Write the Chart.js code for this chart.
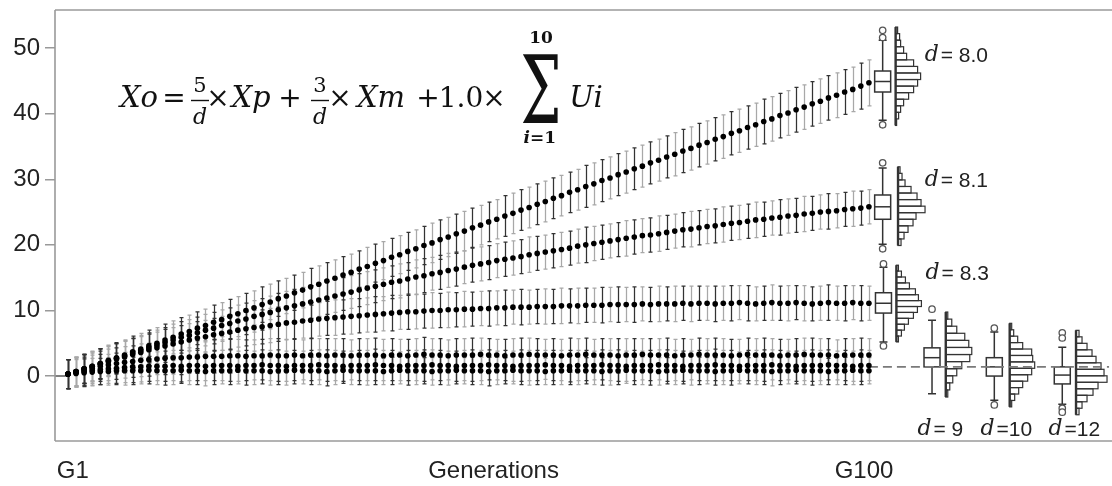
<!DOCTYPE html>
<html><head><meta charset="utf-8">
<script src="https://cdn.jsdelivr.net/npm/chart.js@4.4.0/dist/chart.umd.min.js"></script>
<style>html,body{margin:0;padding:0;background:#fff}#wrap{width:1112px;height:486px}</style>
</head><body><div id="wrap"><canvas id="c" width="1112" height="486"></canvas></div>
<script>
// ---------- categories & ticks ----------
const generations = Array.from({length:100},(_, i)=>i+1);
const xTickValues = [1.6, 53.6, 99.4];
const xTickLabels = ['G1','Generations','G100'];
const yTickValues = [0,10,20,30,40,50];
const dLabels = ['= 8.0','= 8.1','= 8.3','= 9','=10','=12'];

// ---------- series means (per generation) ----------
const mean_d80 = [0.3,0.7,1.1,1.5,1.9,2.4,2.8,3.2,3.7,4.1,4.6,5.0,5.5,5.9,6.4,6.8,7.3,7.7,8.2,8.6,9.1,9.5,10.0,10.4,10.9,11.3,11.8,12.2,12.7,13.1,13.6,14.0,14.5,14.9,15.4,15.8,16.3,16.7,17.2,17.6,18.1,18.5,19.0,19.4,19.9,20.3,20.8,21.2,21.7,22.1,22.6,23.0,23.5,23.9,24.4,24.8,25.3,25.7,26.2,26.6,27.1,27.5,28.0,28.4,28.9,29.3,29.8,30.2,30.7,31.1,31.6,32.0,32.5,32.9,33.4,33.8,34.3,34.7,35.2,35.6,36.1,36.5,37.0,37.4,37.9,38.3,38.8,39.2,39.7,40.1,40.6,41.0,41.5,41.9,42.4,42.8,43.3,43.7,44.2,44.7];
const mean_d81 = [0.3,0.7,1.1,1.5,1.9,2.3,2.7,3.1,3.5,3.9,4.3,4.7,5.1,5.5,5.9,6.2,6.6,7.0,7.3,7.7,8.0,8.4,8.7,9.1,9.4,9.7,10.1,10.4,10.7,11.0,11.3,11.6,11.9,12.2,12.5,12.8,13.1,13.4,13.7,14.0,14.3,14.5,14.8,15.1,15.3,15.6,15.8,16.1,16.3,16.6,16.9,17.1,17.3,17.6,17.8,18.0,18.2,18.5,18.7,18.9,19.1,19.3,19.5,19.8,20.0,20.2,20.4,20.6,20.8,21.0,21.2,21.4,21.5,21.7,21.9,22.1,22.3,22.4,22.6,22.8,22.9,23.1,23.3,23.4,23.6,23.8,23.9,24.1,24.2,24.4,24.5,24.7,24.8,25.0,25.1,25.2,25.4,25.5,25.6,25.8];
const mean_d83 = [0.3,0.7,1.1,1.4,1.8,2.2,2.6,2.9,3.3,3.6,4.0,4.3,4.6,4.9,5.2,5.5,5.8,6.0,6.3,6.5,6.7,7.0,7.2,7.4,7.5,7.7,7.9,8.1,8.2,8.4,8.5,8.7,8.8,8.9,9.0,9.1,9.2,9.3,9.4,9.5,9.6,9.7,9.8,9.8,9.9,10.0,10.0,10.1,10.1,10.2,10.2,10.3,10.3,10.4,10.4,10.5,10.5,10.5,10.6,10.6,10.6,10.7,10.7,10.7,10.8,10.8,10.8,10.9,10.9,10.9,10.9,11.0,10.9,11.0,11.0,11.0,11.1,11.0,11.1,11.1,11.0,11.1,11.1,11.2,11.1,11.0,11.1,11.2,11.1,11.1,11.2,11.1,11.0,11.1,11.2,11.1,11.1,11.2,11.1,11.1];
const mean_d9 = [0.3,0.6,0.9,1.2,1.5,1.7,1.9,2.1,2.2,2.4,2.5,2.6,2.7,2.8,2.8,2.9,2.9,3.0,3.0,3.0,3.1,3.1,3.0,3.1,3.1,3.2,3.1,3.1,3.2,3.1,3.2,3.2,3.1,3.2,3.2,3.1,3.2,3.2,3.2,3.1,3.2,3.2,3.1,3.2,3.3,3.2,3.2,3.1,3.2,3.2,3.2,3.3,3.2,3.2,3.1,3.2,3.2,3.3,3.2,3.2,3.2,3.1,3.2,3.2,3.3,3.2,3.2,3.2,3.1,3.2,3.2,3.3,3.2,3.2,3.2,3.1,3.2,3.2,3.3,3.2,3.2,3.2,3.1,3.2,3.3,3.2,3.2,3.2,3.1,3.2,3.2,3.3,3.2,3.2,3.2,3.1,3.2,3.2,3.2,3.2];
const mean_d10 = [0.3,0.5,0.7,0.9,1.0,1.1,1.2,1.3,1.4,1.4,1.5,1.5,1.5,1.6,1.5,1.6,1.6,1.5,1.6,1.6,1.6,1.5,1.6,1.6,1.7,1.6,1.6,1.5,1.6,1.6,1.6,1.7,1.6,1.6,1.5,1.6,1.6,1.6,1.7,1.6,1.6,1.5,1.6,1.6,1.6,1.7,1.6,1.6,1.5,1.6,1.6,1.6,1.7,1.6,1.6,1.5,1.6,1.6,1.6,1.7,1.6,1.6,1.5,1.6,1.6,1.6,1.7,1.6,1.6,1.5,1.6,1.6,1.6,1.7,1.6,1.6,1.5,1.6,1.6,1.6,1.7,1.6,1.6,1.5,1.6,1.6,1.6,1.7,1.6,1.6,1.5,1.6,1.6,1.6,1.7,1.6,1.6,1.5,1.6,1.6];
const mean_d12 = [0.3,0.4,0.5,0.6,0.7,0.7,0.8,0.8,0.8,0.8,0.9,0.8,0.8,0.8,0.9,0.8,0.8,0.7,0.8,0.8,0.8,0.9,0.8,0.8,0.8,0.7,0.8,0.8,0.9,0.8,0.8,0.8,0.7,0.8,0.9,0.8,0.8,0.8,0.8,0.7,0.8,0.9,0.8,0.8,0.8,0.7,0.8,0.8,0.9,0.8,0.8,0.8,0.7,0.8,0.8,0.9,0.8,0.8,0.8,0.7,0.8,0.8,0.9,0.8,0.8,0.8,0.7,0.8,0.8,0.9,0.8,0.8,0.8,0.7,0.8,0.8,0.9,0.8,0.8,0.8,0.7,0.8,0.8,0.9,0.8,0.8,0.8,0.7,0.8,0.8,0.9,0.8,0.8,0.8,0.7,0.8,0.8,0.9,0.8,0.8];

// ---------- error bar half-lengths (SD) ----------
const sd_d80 = [2.2,2.2,2.2,2.3,2.3,2.3,2.3,2.3,2.4,2.4,2.4,2.4,2.4,2.5,2.5,2.5,2.5,2.5,2.6,2.6,2.6,2.6,2.6,2.6,2.7,2.7,2.7,2.7,2.7,2.7,2.8,2.8,2.8,2.8,2.8,2.8,2.8,2.9,2.9,2.9,2.9,2.9,2.9,2.9,2.9,3.0,3.0,3.0,3.0,3.0,3.0,3.0,3.0,3.0,3.1,3.1,3.1,3.1,3.1,3.1,3.1,3.1,3.1,3.1,3.2,3.2,3.2,3.2,3.2,3.2,3.2,3.2,3.2,3.2,3.2,3.3,3.3,3.3,3.3,3.3,3.3,3.3,3.3,3.3,3.3,3.3,3.4,3.4,3.4,3.4,3.4,3.4,3.4,3.4,3.4,3.4,3.4,3.4,3.5,3.5];
const sd_d81 = [2.2,2.2,2.2,2.2,2.3,2.3,2.3,2.3,2.3,2.3,2.3,2.3,2.3,2.4,2.4,2.4,2.4,2.4,2.4,2.4,2.4,2.4,2.4,2.4,2.4,2.5,2.5,2.5,2.5,2.5,2.5,2.5,2.5,2.5,2.5,2.5,2.5,2.5,2.5,2.5,2.5,2.6,2.5,2.6,2.6,2.5,2.6,2.6,2.6,2.5,2.6,2.6,2.6,2.6,2.6,2.6,2.6,2.7,2.6,2.6,2.6,2.6,2.6,2.6,2.7,2.6,2.6,2.6,2.6,2.7,2.6,2.6,2.6,2.7,2.6,2.6,2.6,2.7,2.6,2.6,2.6,2.7,2.6,2.6,2.6,2.7,2.6,2.6,2.7,2.6,2.6,2.7,2.6,2.6,2.7,2.6,2.6,2.7,2.6,2.6];
const sd_d83 = [2.2,2.2,2.2,2.3,2.3,2.3,2.3,2.4,2.4,2.4,2.4,2.4,2.5,2.5,2.5,2.5,2.5,2.5,2.5,2.6,2.6,2.6,2.6,2.6,2.6,2.6,2.6,2.6,2.6,2.6,2.7,2.6,2.6,2.7,2.6,2.7,2.6,2.6,2.7,2.6,2.7,2.6,2.7,2.6,2.6,2.7,2.6,2.7,2.6,2.7,2.6,2.6,2.7,2.6,2.7,2.6,2.7,2.6,2.6,2.7,2.6,2.7,2.6,2.7,2.6,2.6,2.7,2.6,2.7,2.6,2.7,2.6,2.6,2.7,2.6,2.7,2.6,2.7,2.6,2.6,2.7,2.6,2.7,2.6,2.7,2.6,2.6,2.7,2.6,2.7,2.6,2.7,2.6,2.6,2.7,2.6,2.7,2.6,2.7,2.6];
const sd_d9 = [2.2,2.2,2.3,2.3,2.3,2.4,2.4,2.4,2.4,2.5,2.5,2.4,2.5,2.5,2.6,2.5,2.5,2.4,2.5,2.5,2.6,2.5,2.5,2.4,2.5,2.5,2.6,2.5,2.5,2.4,2.5,2.5,2.6,2.5,2.5,2.4,2.5,2.5,2.6,2.5,2.5,2.4,2.5,2.5,2.6,2.5,2.5,2.4,2.5,2.5,2.6,2.5,2.5,2.4,2.5,2.5,2.6,2.5,2.5,2.4,2.5,2.5,2.6,2.5,2.5,2.4,2.5,2.5,2.6,2.5,2.5,2.4,2.5,2.5,2.6,2.5,2.5,2.4,2.5,2.5,2.6,2.5,2.5,2.4,2.5,2.5,2.6,2.5,2.5,2.4,2.5,2.5,2.6,2.5,2.5,2.4,2.5,2.5,2.6,2.5];
const sd_d10 = [2.2,2.2,2.2,2.3,2.3,2.2,2.3,2.3,2.4,2.3,2.3,2.2,2.3,2.3,2.4,2.3,2.3,2.2,2.3,2.3,2.4,2.3,2.3,2.2,2.3,2.3,2.4,2.3,2.3,2.2,2.3,2.3,2.4,2.3,2.3,2.2,2.3,2.3,2.4,2.3,2.3,2.2,2.3,2.3,2.4,2.3,2.3,2.2,2.3,2.3,2.4,2.3,2.3,2.2,2.3,2.3,2.4,2.3,2.3,2.2,2.3,2.3,2.4,2.3,2.3,2.2,2.3,2.3,2.4,2.3,2.3,2.2,2.3,2.3,2.4,2.3,2.3,2.2,2.3,2.3,2.4,2.3,2.3,2.2,2.3,2.3,2.4,2.3,2.3,2.2,2.3,2.3,2.4,2.3,2.3,2.2,2.3,2.3,2.4,2.3];
const sd_d12 = [2.2,2.1,2.1,2.1,2.0,2.1,2.1,2.2,2.1,2.0,2.1,2.1,2.2,2.1,2.0,2.1,2.1,2.2,2.1,2.0,2.1,2.1,2.2,2.1,2.0,2.1,2.1,2.2,2.1,2.0,2.1,2.1,2.2,2.1,2.0,2.1,2.1,2.2,2.1,2.0,2.1,2.1,2.2,2.1,2.0,2.1,2.1,2.2,2.1,2.0,2.1,2.1,2.2,2.1,2.0,2.1,2.1,2.2,2.1,2.0,2.1,2.1,2.2,2.1,2.0,2.1,2.1,2.2,2.1,2.0,2.1,2.1,2.2,2.1,2.0,2.1,2.1,2.2,2.1,2.0,2.1,2.1,2.2,2.1,2.0,2.1,2.1,2.2,2.1,2.0,2.1,2.1,2.2,2.1,2.0,2.1,2.1,2.2,2.1,2.0];

// ---------- G100 distributions: box plots ----------
const boxQ1 = [43.3, 23.9, 9.6, 1.4, 0.0, -1.2];
const boxMedian = [44.9, 25.8, 11.1, 2.8, 1.4, 0.15];
const boxQ3 = [46.5, 27.6, 12.7, 4.3, 2.8, 1.4];
const whiskerLow = [39.0, 20.1, 5.2, -2.7, -3.7, -4.3];
const whiskerHigh = [51.2, 31.7, 16.6, 8.5, 6.7, 4.4];
const outliers = [[52.7, 51.6, 38.3], [32.5, 19.4], [17.1, 4.6], [10.2], [7.3, -4.4], [6.6, 5.8, -4.9, -5.5]];

// ---------- G100 distributions: histograms (bottom bin -> top bin) ----------
const histStart = [38.2, 19.9, 5.2, -3.2, -4.7, -5.9];
const histBinWidth = [1.0, 1.0, 0.9, 1.08, 0.98, 0.99];
const histCounts = [
  [1,3,5,8,13,18,22,25,22,18,11,8,5,4,2],
  [3,6,10,15,18,27,23,19,13,7,4,2],
  [2,5,8,12,17,21,25,22,19,13,9,5,2],
  [2,4,7,11,16,24,26,23,19,11,6,2],
  [2,5,9,13,18,22,25,23,22,13,8,4,2],
  [3,6,11,17,22,31,28,25,20,16,11,6,3]
];
const refLevel = [1.4];

const seriesDefs = [
  {mean: mean_d80, sd: sd_d80},
  {mean: mean_d81, sd: sd_d81},
  {mean: mean_d83, sd: sd_d83},
  {mean: mean_d9,  sd: sd_d9},
  {mean: mean_d10, sd: sd_d10},
  {mean: mean_d12, sd: sd_d12}
];

// ---------- placement / style (not data) ----------
const X_MIN = -0.6, X_MAX = 129.7;
const boxAt  = [101.7, 101.7, 101.8, 107.8, 115.5, 123.9];
const histAt = [103.3, 103.6, 103.4, 109.5, 117.4, 125.6];
const labelAt = [[106.9,48.9],[106.9,29.9],[107.0,15.7],[106.0,-8.1],[113.8,-8.1],[122.2,-8.1]];
const HIST_PX_PER_COUNT = 1.0;
const BOX_HALF = 8;
const TICK_FONT = { family: '"Liberation Sans", Arial, sans-serif', size: 24 };

function drawErrorBars(chart){
  const {ctx, scales:{x, y}} = chart;
  ctx.save();
  ctx.lineWidth = 1.25;
  seriesDefs.forEach(s => {
    s.mean.forEach((m, i) => {
      const px = Math.round(x.getPixelForValue(generations[i])) + 0.5;
      const yt = y.getPixelForValue(m + s.sd[i]);
      const yb = y.getPixelForValue(m - s.sd[i]);
      ctx.strokeStyle = (i % 2) ? '#a8a8a8' : '#333';
      ctx.beginPath();
      ctx.moveTo(px, yt); ctx.lineTo(px, yb);
      ctx.moveTo(px - 2, yt); ctx.lineTo(px + 2, yt);
      ctx.moveTo(px - 2, yb); ctx.lineTo(px + 2, yb);
      ctx.stroke();
    });
  });
  ctx.restore();
}

function drawDistributions(chart){
  const {ctx, scales:{x, y}} = chart;
  ctx.save();
  for (let k = 0; k < 6; k++){
    // histogram
    const hx = x.getPixelForValue(histAt[k]);
    ctx.strokeStyle = '#333'; ctx.lineWidth = 1.2; ctx.fillStyle = '#fff';
    histCounts[k].forEach((c, j) => {
      const v0 = histStart[k] + j * histBinWidth[k];
      const yb = y.getPixelForValue(v0), yt = y.getPixelForValue(v0 + histBinWidth[k]);
      const w = c * HIST_PX_PER_COUNT;
      ctx.strokeRect(hx, yt, w, yb - yt);
    });
    const nb = histCounts[k].length;
    ctx.lineWidth = 2.4;
    ctx.beginPath();
    ctx.moveTo(hx, y.getPixelForValue(histStart[k]));
    ctx.lineTo(hx, y.getPixelForValue(histStart[k] + nb * histBinWidth[k]));
    ctx.stroke();

    // box plot
    const cx = x.getPixelForValue(boxAt[k]);
    ctx.strokeStyle = '#333'; ctx.lineWidth = 1.5;
    const yl = y.getPixelForValue(whiskerLow[k]), yh = y.getPixelForValue(whiskerHigh[k]);
    ctx.beginPath();
    ctx.moveTo(cx, yh); ctx.lineTo(cx, yl);
    ctx.moveTo(cx - 4, yh); ctx.lineTo(cx + 4, yh);
    ctx.moveTo(cx - 4, yl); ctx.lineTo(cx + 4, yl);
    ctx.stroke();
    const q1 = y.getPixelForValue(boxQ1[k]), q3 = y.getPixelForValue(boxQ3[k]), md = y.getPixelForValue(boxMedian[k]);
    ctx.fillStyle = '#fff';
    ctx.fillRect(cx - BOX_HALF, q3, 2 * BOX_HALF, q1 - q3);
    ctx.strokeRect(cx - BOX_HALF, q3, 2 * BOX_HALF, q1 - q3);
    ctx.beginPath(); ctx.moveTo(cx - BOX_HALF, md); ctx.lineTo(cx + BOX_HALF, md); ctx.stroke();
    outliers[k].forEach(v => {
      ctx.beginPath();
      ctx.arc(cx, y.getPixelForValue(v), 3.2, 0, Math.PI * 2);
      ctx.fillStyle = '#fff'; ctx.fill();
      ctx.strokeStyle = '#555'; ctx.lineWidth = 1.3; ctx.stroke();
    });
  }
  ctx.restore();
}

function drawLabels(chart){
  const {ctx, scales:{x, y}} = chart;
  ctx.save();
  ctx.fillStyle = '#222';
  ctx.textBaseline = 'middle';
  ctx.textAlign = 'left';
  dLabels.forEach((t, k) => {
    const px = x.getPixelForValue(labelAt[k][0]);
    const py = y.getPixelForValue(labelAt[k][1]);
    ctx.font = 'italic 22px "DejaVu Serif"';
    ctx.fillText('d', px, py);
    ctx.font = '21px "Liberation Sans", Arial, sans-serif';
    ctx.fillText(t, px + 16, py + 1);
  });
  ctx.restore();
}

function drawFormula(chart){
  const ctx = chart.ctx;
  ctx.save();
  ctx.fillStyle = '#111';
  ctx.strokeStyle = '#111';
  ctx.textAlign = 'center';
  ctx.textBaseline = 'alphabetic';
  const it = 'italic 29px "DejaVu Serif"';
  const rm = '28px "DejaVu Serif"';
  const sm = '21px "DejaVu Serif"';
  const smi = 'italic 22px "DejaVu Serif"';
  const base = 107;
  const put = (t, x, y, f) => { ctx.font = f; ctx.fillText(t, x, y); };
  const bar = (x0, x1, y) => { ctx.lineWidth = 1.4; ctx.beginPath(); ctx.moveTo(x0, y); ctx.lineTo(x1, y); ctx.stroke(); };
  put('Xo', 139, base, it);
  put('=', 174, base, rm);
  put('5', 200, 92, sm); bar(191, 209, 100.5); put('d', 200, 124, smi);
  put('×', 218, base, rm);
  put('Xp', 251, base, it);
  put('+', 290, base, rm);
  put('3', 320, 92, sm); bar(311, 329, 100.5); put('d', 320, 124, smi);
  put('×', 340, base, rm);
  put('Xm', 381, base, it);
  put('+', 428, base, rm);
  put('1.0', 461, base, rm);
  put('×', 494, base, rm);
  ctx.save();
  ctx.translate(541, 123);
  ctx.scale(1, 1.6);
  ctx.font = '58px "DejaVu Serif"';
  ctx.fillText('Σ', 0, 0);
  ctx.restore();
  put('10', 541, 43, 'bold 17px "DejaVu Serif"');
  ctx.font = 'italic bold 17px "DejaVu Serif"';
  ctx.textAlign = 'right'; ctx.fillText('i', 530, 143);
  ctx.font = 'bold 17px "DejaVu Serif"';
  ctx.textAlign = 'left'; ctx.fillText('=1', 530, 143);
  ctx.textAlign = 'center';
  put('Ui', 586, base, it);
  ctx.restore();
}

function drawFrame(chart){
  const {ctx, chartArea:a} = chart;
  ctx.save();
  ctx.strokeStyle = '#9a9a9a';
  ctx.lineWidth = 1.6;
  ctx.beginPath();
  ctx.moveTo(a.left, a.top); ctx.lineTo(chart.width, a.top);
  ctx.moveTo(a.left, a.top); ctx.lineTo(a.left, a.bottom);
  ctx.moveTo(a.left, a.bottom); ctx.lineTo(chart.width, a.bottom);
  ctx.stroke();
  ctx.restore();
}

const extras = {
  id: 'extras',
  beforeDatasetsDraw(chart){ drawErrorBars(chart); drawDistributions(chart); },
  afterDraw(chart){ drawLabels(chart); drawFormula(chart); drawFrame(chart); }
};

const pointSet = (vals, label) => ({
  label,
  data: vals.map((v, i) => ({x: generations[i], y: v})),
  showLine: false,
  pointRadius: 2.8,
  pointHoverRadius: 2.8,
  pointBackgroundColor: '#000',
  pointBorderColor: '#000',
  pointBorderWidth: 0
});

const datasets = [
  pointSet(mean_d80, 'd = 8.0'),
  pointSet(mean_d81, 'd = 8.1'),
  pointSet(mean_d83, 'd = 8.3'),
  pointSet(mean_d9, 'd = 9'),
  pointSet(mean_d10, 'd = 10'),
  pointSet(mean_d12, 'd = 12'),
  { label: 'ref', data: [{x: 100, y: refLevel[0]}, {x: X_MAX, y: refLevel[0]}], showLine: true,
    borderColor: '#7a7a7a', borderWidth: 1.6, borderDash: [9, 5], pointRadius: 0 },
  { label: 'zero', data: [{x: X_MIN, y: 0}, {x: 1, y: 0}], showLine: true,
    borderColor: '#555', borderWidth: 1.5, pointRadius: 0 }
];

new Chart(document.getElementById('c'), {
  type: 'scatter',
  data: { datasets },
  plugins: [extras],
  options: {
    responsive: false,
    animation: false,
    events: [],
    layout: { padding: { top: 10, right: 0, bottom: 0, left: 0 } },
    plugins: { legend: { display: false }, tooltip: { enabled: false } },
    scales: {
      x: {
        type: 'linear', min: X_MIN, max: X_MAX,
        afterFit(s){ s.height = 45; s.paddingLeft = 0; s.paddingRight = 0; },
        afterBuildTicks(s){ s.ticks = xTickValues.map(v => ({value: v})); },
        grid: { display: false, drawTicks: false },
        border: { display: false },
        ticks: {
          autoSkip: false, maxRotation: 0, padding: 16, color: '#222',
          font: TICK_FONT,
          callback: (v, i) => xTickLabels[i]
        }
      },
      y: {
        type: 'linear', min: -9.9, max: 55.8,
        afterFit(s){ s.width = 55; s.paddingTop = 0; s.paddingBottom = 0; },
        afterBuildTicks(s){ s.ticks = yTickValues.map(v => ({value: v})); },
        grid: { drawOnChartArea: false, drawTicks: true, tickLength: 10, color: '#999', lineWidth: 1.5 },
        border: { display: false },
        ticks: {
          padding: 5, color: '#222',
          font: TICK_FONT,
          callback: (v) => String(v)
        }
      }
    }
  }
});
</script>
</body></html>
